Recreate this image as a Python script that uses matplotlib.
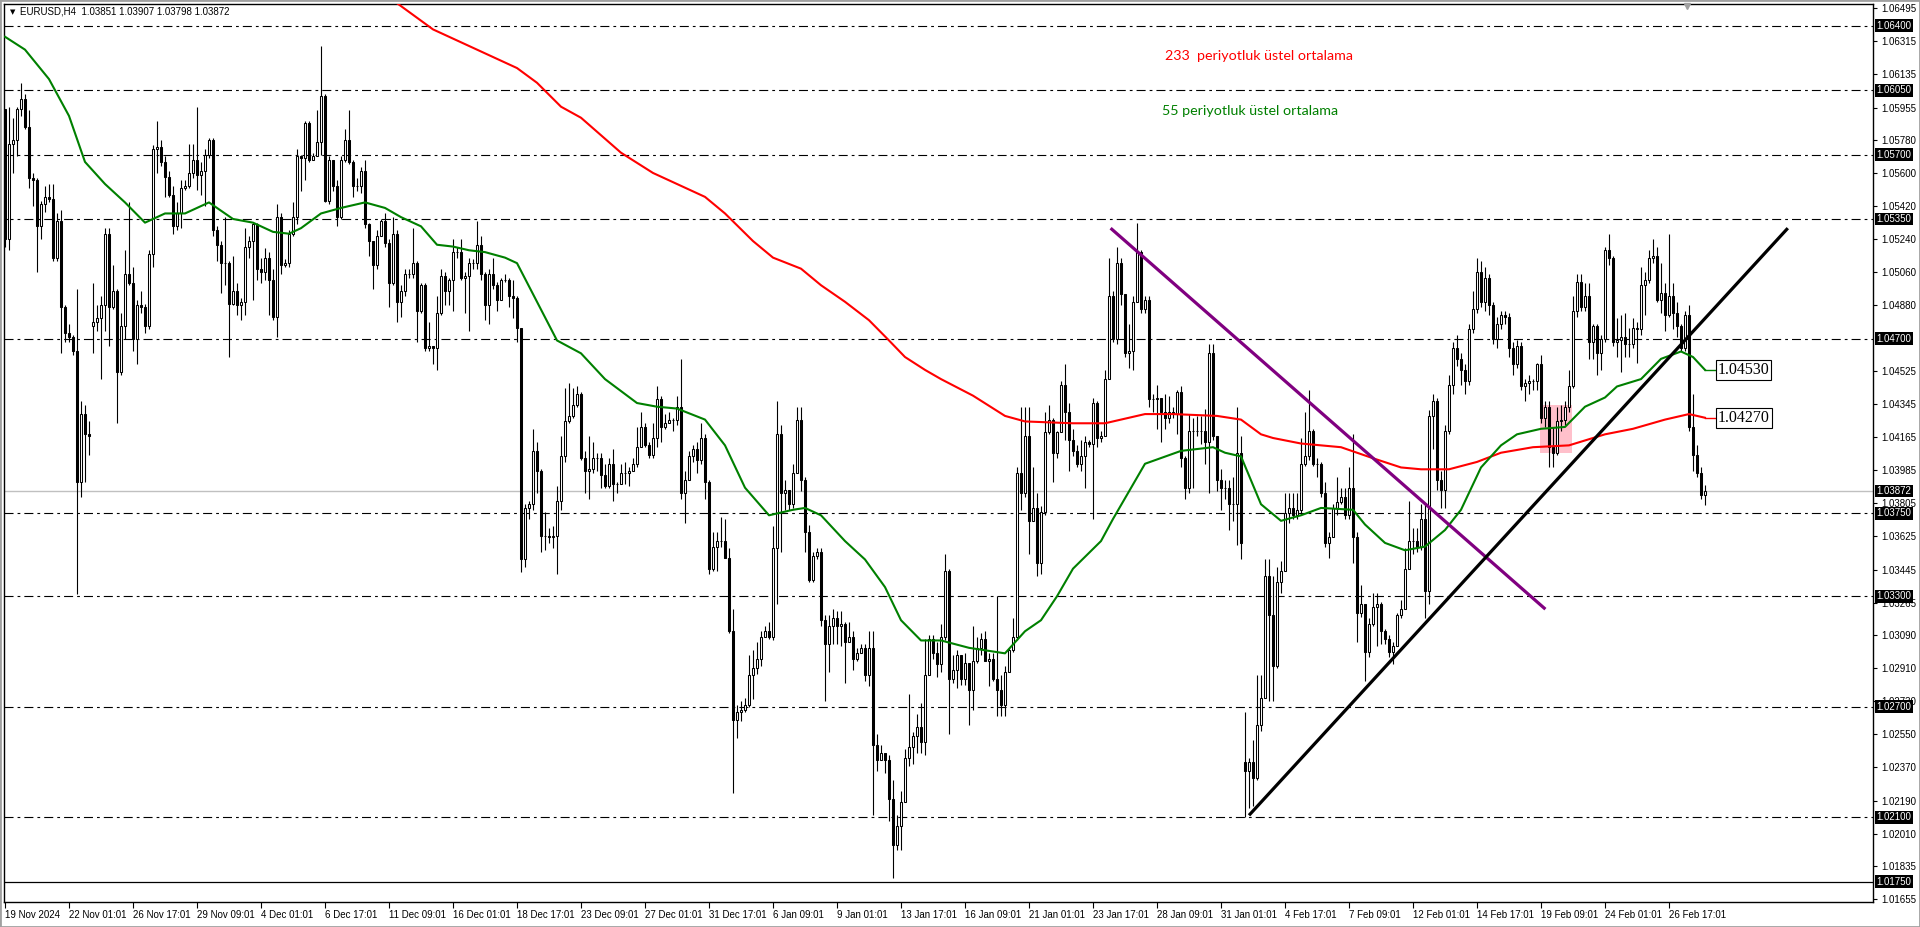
#!/usr/bin/python
#encoding-utf8
import matplotlib
matplotlib.use('Agg')
import matplotlib.pyplot as plt
import matplotlib.transforms as mtransforms
from matplotlib.patches import Rectangle

# EURUSD H4 candles, 19 Nov 2024 -> 27 Feb 2025.
closes = [
    1.0524, 1.0576, 1.0578, 1.0595, 1.0600, 1.0585, 1.0557, 1.0556, 1.0531, 1.0543,
    1.0547, 1.0546, 1.0514, 1.0534, 1.0487, 1.0473, 1.0471, 1.0463, 1.0392, 1.0429,
    1.0418, 1.0417, 1.0479, 1.0481, 1.0488, 1.0527, 1.0487, 1.0496, 1.0452, 1.0477,
    1.0505, 1.0500, 1.0470, 1.0488, 1.0487, 1.0477, 1.0516, 1.0573, 1.0574, 1.0566,
    1.0558, 1.0548, 1.0531, 1.0538, 1.0552, 1.0553, 1.0560, 1.0567, 1.0559, 1.0561,
    1.0570, 1.0578, 1.0529, 1.0521, 1.0511, 1.0511, 1.0489, 1.0496, 1.0488, 1.0490,
    1.0520, 1.0523, 1.0532, 1.0508, 1.0506, 1.0514, 1.0502, 1.0482, 1.0536, 1.0510,
    1.0511, 1.0527, 1.0536, 1.0569, 1.0568, 1.0587, 1.0567, 1.0569, 1.0577, 1.0602,
    1.0545, 1.0567, 1.0553, 1.0536, 1.0567, 1.0578, 1.0566, 1.0553, 1.0553, 1.0561,
    1.0532, 1.0523, 1.0510, 1.0526, 1.0534, 1.0522, 1.0500, 1.0527, 1.0490, 1.0496,
    1.0505, 1.0505, 1.0511, 1.0485, 1.0499, 1.0465, 1.0466, 1.0465, 1.0484, 1.0504,
    1.0496, 1.0502, 1.0517, 1.0517, 1.0503, 1.0504, 1.0511, 1.0511, 1.0521, 1.0505,
    1.0488, 1.0505, 1.0499, 1.0491, 1.0502, 1.0502, 1.0493, 1.0492, 1.0476, 1.0350,
    1.0378, 1.0380, 1.0409, 1.0398, 1.0363, 1.0363, 1.0362, 1.0363, 1.0382, 1.0406,
    1.0425, 1.0428, 1.0434, 1.0440, 1.0405, 1.0398, 1.0399, 1.0405, 1.0405, 1.0396,
    1.0390, 1.0402, 1.0391, 1.0391, 1.0397, 1.0397, 1.0398, 1.0402, 1.0411, 1.0422,
    1.0412, 1.0407, 1.0416, 1.0437, 1.0422, 1.0424, 1.0426, 1.0426, 1.0433, 1.0386,
    1.0393, 1.0406, 1.0410, 1.0404, 1.0416, 1.0392, 1.0345, 1.0357, 1.0360, 1.0360,
    1.0351, 1.0311, 1.0263, 1.0267, 1.0268, 1.0271, 1.0287, 1.0291, 1.0296, 1.0308,
    1.0311, 1.0308, 1.0356, 1.0418, 1.0386, 1.0388, 1.0380, 1.0397, 1.0426, 1.0393,
    1.0365, 1.0339, 1.0352, 1.0354, 1.0317, 1.0304, 1.0314, 1.0318, 1.0314, 1.0315,
    1.0305, 1.0308, 1.0296, 1.0299, 1.0302, 1.0287, 1.0302, 1.0249, 1.0241, 1.0245,
    1.0241, 1.0220, 1.0195, 1.0205, 1.0218, 1.0242, 1.0248, 1.0254, 1.0259, 1.0251,
    1.0287, 1.0307, 1.0299, 1.0293, 1.0308, 1.0344, 1.0285, 1.0290, 1.0298, 1.0285,
    1.0294, 1.0279, 1.0295, 1.0302, 1.0307, 1.0295, 1.0296, 1.0285, 1.0279, 1.0271,
    1.0289, 1.0301, 1.0308, 1.0397, 1.0386, 1.0417, 1.0371, 1.0378, 1.0348, 1.0376,
    1.0419, 1.0426, 1.0408, 1.0419, 1.0445, 1.0430, 1.0415, 1.0409, 1.0402, 1.0406,
    1.0414, 1.0413, 1.0435, 1.0416, 1.0417, 1.0448, 1.0493, 1.0470, 1.0511, 1.0494,
    1.0462, 1.0463, 1.0490, 1.0517, 1.0486, 1.0491, 1.0437, 1.0437, 1.0438, 1.0430,
    1.0427, 1.0430, 1.0429, 1.0441, 1.0405, 1.0389, 1.0420, 1.0420, 1.0420, 1.0420,
    1.0414, 1.0462, 1.0417, 1.0393, 1.0389, 1.0389, 1.0380, 1.0380, 1.0408, 1.0359,
    1.0235, 1.0240, 1.0231, 1.0260, 1.0275, 1.0341, 1.0320, 1.0292, 1.0338, 1.0344,
    1.0375, 1.0378, 1.0374, 1.0377, 1.0402, 1.0406, 1.0420, 1.0402, 1.0402, 1.0386,
    1.0359, 1.0362, 1.0378, 1.0381, 1.0384, 1.0374, 1.0389, 1.0362, 1.0321, 1.0326,
    1.0300, 1.0315, 1.0324, 1.0326, 1.0311, 1.0307, 1.0300, 1.0303, 1.0320, 1.0323,
    1.0345, 1.0360, 1.0360, 1.0357, 1.0372, 1.0333, 1.0428, 1.0436, 1.0393, 1.0388,
    1.0420, 1.0445, 1.0465, 1.0459, 1.0453, 1.0447, 1.0475, 1.0486, 1.0506, 1.0490,
    1.0503, 1.0488, 1.0470, 1.0478, 1.0483, 1.0482, 1.0465, 1.0456, 1.0466, 1.0444,
    1.0446, 1.0447, 1.0447, 1.0456, 1.0427, 1.0433, 1.0411, 1.0408, 1.0425, 1.0426,
    1.0433, 1.0444, 1.0485, 1.0501, 1.0487, 1.0493, 1.0468, 1.0477, 1.0462, 1.0470,
    1.0518, 1.0514, 1.0468, 1.0469, 1.0471, 1.0467, 1.0467, 1.0476, 1.0475, 1.0499,
    1.0502, 1.0514, 1.0515, 1.0491, 1.0495, 1.0483, 1.0493, 1.0484, 1.0477, 1.0465,
    1.0483, 1.0422, 1.0407, 1.0397, 1.0385, 1.03872,
]

highs = [
    1.0595, 1.0596, 1.0590, 1.0596, 1.0609, 1.0603, 1.0594, 1.0560, 1.0557, 1.0545,
    1.0553, 1.0554, 1.0554, 1.0538, 1.0540, 1.0488, 1.0478, 1.0472, 1.0497, 1.0436,
    1.0434, 1.0425, 1.0500, 1.0488, 1.0493, 1.0530, 1.0530, 1.0510, 1.0497, 1.0484,
    1.0518, 1.0544, 1.0509, 1.0491, 1.0496, 1.0489, 1.0518, 1.0575, 1.0588, 1.0578,
    1.0569, 1.0561, 1.0553, 1.0544, 1.0556, 1.0556, 1.0576, 1.0576, 1.0596, 1.0566,
    1.0573, 1.0579, 1.0579, 1.0531, 1.0523, 1.0536, 1.0512, 1.0515, 1.0500, 1.0492,
    1.0530, 1.0526, 1.0533, 1.0533, 1.0514, 1.0519, 1.0517, 1.0508, 1.0543, 1.0538,
    1.0513, 1.0529, 1.0544, 1.0573, 1.0570, 1.0588, 1.0588, 1.0571, 1.0594, 1.0629,
    1.0603, 1.0569, 1.0561, 1.0556, 1.0569, 1.0584, 1.0594, 1.0567, 1.0557, 1.0563,
    1.0567, 1.0533, 1.0523, 1.0529, 1.0535, 1.0538, 1.0524, 1.0536, 1.0529, 1.0499,
    1.0508, 1.0508, 1.0530, 1.0512, 1.0500, 1.0500, 1.0479, 1.0466, 1.0493, 1.0508,
    1.0506, 1.0503, 1.0524, 1.0520, 1.0524, 1.0506, 1.0514, 1.0513, 1.0534, 1.0526,
    1.0506, 1.0508, 1.0514, 1.0501, 1.0503, 1.0505, 1.0503, 1.0502, 1.0493, 1.0476,
    1.0380, 1.0382, 1.0421, 1.0414, 1.0399, 1.0376, 1.0367, 1.0368, 1.0390, 1.0417,
    1.0443, 1.0446, 1.0443, 1.0444, 1.0441, 1.0409, 1.0417, 1.0414, 1.0408, 1.0408,
    1.0402, 1.0405, 1.0410, 1.0392, 1.0402, 1.0403, 1.0400, 1.0405, 1.0422, 1.0430,
    1.0424, 1.0414, 1.0424, 1.0444, 1.0439, 1.0429, 1.0430, 1.0427, 1.0439, 1.0459,
    1.0398, 1.0409, 1.0412, 1.0414, 1.0424, 1.0418, 1.0393, 1.0365, 1.0365, 1.0373,
    1.0372, 1.0356, 1.0323, 1.0271, 1.0273, 1.0275, 1.0298, 1.0301, 1.0305, 1.0311,
    1.0314, 1.0316, 1.0368, 1.0436, 1.0423, 1.0393, 1.0386, 1.0402, 1.0433, 1.0433,
    1.0395, 1.0369, 1.0354, 1.0356, 1.0356, 1.0320, 1.0320, 1.0323, 1.0322, 1.0322,
    1.0316, 1.0316, 1.0311, 1.0302, 1.0304, 1.0304, 1.0311, 1.0311, 1.0255, 1.0249,
    1.0245, 1.0244, 1.0230, 1.0211, 1.0224, 1.0247, 1.0277, 1.0256, 1.0266, 1.0272,
    1.0307, 1.0309, 1.0309, 1.0305, 1.0315, 1.0353, 1.0345, 1.0298, 1.0301, 1.0291,
    1.0299, 1.0294, 1.0314, 1.0308, 1.0310, 1.0311, 1.0299, 1.0299, 1.0330, 1.0287,
    1.0292, 1.0302, 1.0318, 1.0400, 1.0433, 1.0433, 1.0433, 1.0400, 1.0386, 1.0379,
    1.0430, 1.0434, 1.0427, 1.0420, 1.0447, 1.0456, 1.0435, 1.0421, 1.0412, 1.0415,
    1.0417, 1.0415, 1.0438, 1.0436, 1.0420, 1.0453, 1.0514, 1.0496, 1.0520, 1.0514,
    1.0494, 1.0478, 1.0493, 1.0533, 1.0518, 1.0493, 1.0493, 1.0440, 1.0445, 1.0437,
    1.0440, 1.0439, 1.0433, 1.0442, 1.0444, 1.0406, 1.0429, 1.0427, 1.0428, 1.0428,
    1.0432, 1.0467, 1.0467, 1.0417, 1.0399, 1.0393, 1.0393, 1.0395, 1.0433, 1.0417,
    1.0267, 1.0242, 1.0252, 1.0287, 1.0287, 1.0350, 1.0350, 1.0341, 1.0346, 1.0349,
    1.0386, 1.0386, 1.0386, 1.0386, 1.0416, 1.0430, 1.0442, 1.0421, 1.0405, 1.0403,
    1.0392, 1.0365, 1.0380, 1.0395, 1.0389, 1.0389, 1.0400, 1.0418, 1.0365, 1.0336,
    1.0326, 1.0318, 1.0332, 1.0332, 1.0327, 1.0312, 1.0309, 1.0305, 1.0321, 1.0328,
    1.0356, 1.0382, 1.0367, 1.0367, 1.0380, 1.0380, 1.0431, 1.0440, 1.0438, 1.0398,
    1.0423, 1.0450, 1.0468, 1.0472, 1.0462, 1.0456, 1.0478, 1.0496, 1.0514, 1.0512,
    1.0509, 1.0505, 1.0490, 1.0482, 1.0485, 1.0485, 1.0484, 1.0468, 1.0469, 1.0468,
    1.0448, 1.0450, 1.0448, 1.0457, 1.0461, 1.0436, 1.0436, 1.0422, 1.0433, 1.0434,
    1.0436, 1.0453, 1.0493, 1.0505, 1.0505, 1.0500, 1.0500, 1.0478, 1.0478, 1.0472,
    1.0520, 1.0527, 1.0515, 1.0481, 1.0483, 1.0484, 1.0476, 1.0481, 1.0479, 1.0509,
    1.0506, 1.0518, 1.0524, 1.0520, 1.0511, 1.0500, 1.0527, 1.0500, 1.0490, 1.0478,
    1.0485, 1.0488, 1.0440, 1.0412, 1.0400, 1.03907,
]

lows = [
    1.0520, 1.0518, 1.0560, 1.0569, 1.0591, 1.0584, 1.0552, 1.0542, 1.0506, 1.0524,
    1.0539, 1.0544, 1.0512, 1.0512, 1.0462, 1.0468, 1.0468, 1.0461, 1.0331, 1.0384,
    1.0392, 1.0407, 1.0462, 1.0474, 1.0448, 1.0474, 1.0466, 1.0486, 1.0424, 1.0450,
    1.0470, 1.0499, 1.0463, 1.0456, 1.0484, 1.0473, 1.0475, 1.0509, 1.0560, 1.0564,
    1.0547, 1.0547, 1.0527, 1.0529, 1.0530, 1.0551, 1.0552, 1.0557, 1.0551, 1.0548,
    1.0542, 1.0568, 1.0526, 1.0512, 1.0495, 1.0499, 1.0460, 1.0488, 1.0483, 1.0480,
    1.0483, 1.0514, 1.0491, 1.0502, 1.0500, 1.0502, 1.0483, 1.0480, 1.0471, 1.0505,
    1.0509, 1.0509, 1.0526, 1.0532, 1.0550, 1.0556, 1.0566, 1.0567, 1.0569, 1.0570,
    1.0544, 1.0543, 1.0550, 1.0531, 1.0535, 1.0566, 1.0565, 1.0547, 1.0550, 1.0549,
    1.0530, 1.0515, 1.0497, 1.0508, 1.0526, 1.0520, 1.0487, 1.0499, 1.0479, 1.0482,
    1.0493, 1.0503, 1.0503, 1.0468, 1.0484, 1.0463, 1.0463, 1.0456, 1.0453, 1.0483,
    1.0488, 1.0488, 1.0485, 1.0514, 1.0502, 1.0484, 1.0474, 1.0508, 1.0508, 1.0502,
    1.0480, 1.0478, 1.0497, 1.0485, 1.0491, 1.0501, 1.0487, 1.0481, 1.0468, 1.0343,
    1.0346, 1.0372, 1.0377, 1.0386, 1.0354, 1.0355, 1.0359, 1.0356, 1.0342, 1.0377,
    1.0403, 1.0424, 1.0427, 1.0433, 1.0404, 1.0386, 1.0383, 1.0397, 1.0398, 1.0389,
    1.0389, 1.0389, 1.0382, 1.0386, 1.0391, 1.0391, 1.0390, 1.0398, 1.0400, 1.0411,
    1.0411, 1.0405, 1.0405, 1.0411, 1.0414, 1.0421, 1.0424, 1.0420, 1.0423, 1.0383,
    1.0370, 1.0393, 1.0403, 1.0397, 1.0402, 1.0383, 1.0342, 1.0344, 1.0344, 1.0357,
    1.0351, 1.0310, 1.0223, 1.0253, 1.0262, 1.0267, 1.0270, 1.0274, 1.0288, 1.0292,
    1.0308, 1.0307, 1.0306, 1.0326, 1.0354, 1.0377, 1.0377, 1.0378, 1.0397, 1.0387,
    1.0354, 1.0338, 1.0338, 1.0350, 1.0314, 1.0273, 1.0289, 1.0304, 1.0304, 1.0303,
    1.0283, 1.0305, 1.0290, 1.0295, 1.0299, 1.0284, 1.0281, 1.0211, 1.0235, 1.0241,
    1.0234, 1.0208, 1.0177, 1.0192, 1.0192, 1.0218, 1.0238, 1.0239, 1.0245, 1.0245,
    1.0244, 1.0287, 1.0296, 1.0286, 1.0289, 1.0306, 1.0255, 1.0283, 1.0280, 1.0282,
    1.0282, 1.0260, 1.0268, 1.0294, 1.0298, 1.0295, 1.0281, 1.0284, 1.0265, 1.0265,
    1.0265, 1.0289, 1.0300, 1.0306, 1.0377, 1.0384, 1.0353, 1.0371, 1.0341, 1.0342,
    1.0374, 1.0418, 1.0392, 1.0405, 1.0419, 1.0415, 1.0398, 1.0406, 1.0400, 1.0398,
    1.0389, 1.0411, 1.0372, 1.0411, 1.0414, 1.0417, 1.0448, 1.0468, 1.0467, 1.0488,
    1.0460, 1.0454, 1.0453, 1.0490, 1.0484, 1.0484, 1.0433, 1.0430, 1.0421, 1.0414,
    1.0421, 1.0424, 1.0427, 1.0418, 1.0400, 1.0383, 1.0386, 1.0389, 1.0417, 1.0413,
    1.0402, 1.0386, 1.0415, 1.0387, 1.0377, 1.0383, 1.0366, 1.0371, 1.0358, 1.0350,
    1.0210, 1.0215, 1.0216, 1.0230, 1.0257, 1.0275, 1.0273, 1.0273, 1.0291, 1.0332,
    1.0344, 1.0370, 1.0372, 1.0372, 1.0374, 1.0401, 1.0404, 1.0401, 1.0395, 1.0384,
    1.0357, 1.0351, 1.0362, 1.0374, 1.0380, 1.0372, 1.0372, 1.0348, 1.0305, 1.0319,
    1.0284, 1.0297, 1.0314, 1.0303, 1.0304, 1.0304, 1.0297, 1.0293, 1.0303, 1.0318,
    1.0323, 1.0345, 1.0353, 1.0354, 1.0355, 1.0318, 1.0326, 1.0410, 1.0388, 1.0378,
    1.0378, 1.0418, 1.0440, 1.0455, 1.0445, 1.0440, 1.0445, 1.0473, 1.0484, 1.0487,
    1.0485, 1.0483, 1.0467, 1.0465, 1.0475, 1.0478, 1.0460, 1.0450, 1.0454, 1.0442,
    1.0436, 1.0440, 1.0442, 1.0442, 1.0424, 1.0422, 1.0400, 1.0400, 1.0407, 1.0420,
    1.0423, 1.0430, 1.0443, 1.0482, 1.0485, 1.0485, 1.0459, 1.0459, 1.0450, 1.0453,
    1.0468, 1.0510, 1.0466, 1.0460, 1.0452, 1.0460, 1.0460, 1.0465, 1.0457, 1.0472,
    1.0483, 1.0500, 1.0511, 1.0490, 1.0484, 1.0474, 1.0482, 1.0475, 1.0471, 1.0463,
    1.0463, 1.0420, 1.0398, 1.0395, 1.0383, 1.03798,
]

# bars whose open is not the previous close (weekend gaps, first and last bar)
gap_opens = {0: 1.0595, 22: 1.0477, 310: 1.0240, 425: 1.03851}

# moving averages, sampled along the drawn curves (bar index, price)
ema55_bars = [0, 5, 11, 16, 20, 25, 30, 35, 40, 45, 51, 57, 62, 67, 71, 74, 79, 84, 90,
              95, 99, 104, 108, 112, 116, 120, 125, 128, 133, 138, 144, 150, 158, 163,
              168, 175, 180, 185, 191, 197, 200, 204, 210, 215, 220, 224, 229, 234, 241,
              250, 255, 259, 263, 267, 274, 277, 281, 285, 294, 302, 305, 309, 314, 319,
              324, 329, 337, 340, 345, 350, 355, 360, 364, 369, 374, 378, 384, 390, 395,
              400, 403, 409, 414, 419, 422, 425]
ema55_vals = [1.0634, 1.0627, 1.0611, 1.0591, 1.0566, 1.0554, 1.0544, 1.0533, 1.0538,
              1.0538, 1.0544, 1.0535, 1.0533, 1.0528, 1.0527, 1.0530, 1.0538, 1.0541,
              1.0544, 1.0541, 1.0536, 1.0531, 1.0521, 1.0520, 1.0518, 1.0517, 1.0514,
              1.0511, 1.0490, 1.0469, 1.0462, 1.0448, 1.0435, 1.0433, 1.0432, 1.0426,
              1.0412, 1.0389, 1.0374, 1.0377, 1.0378, 1.0374, 1.0360, 1.0350, 1.0335,
              1.0317, 1.0306, 1.0306, 1.0302, 1.0299, 1.0311, 1.0317, 1.0330, 1.0345,
              1.0360, 1.0372, 1.0387, 1.0402, 1.0409, 1.0411, 1.0408, 1.0406, 1.0380,
              1.0371, 1.0374, 1.0378, 1.0377, 1.0369, 1.0359, 1.0355, 1.0357, 1.0366,
              1.0377, 1.0400, 1.0412, 1.0418, 1.0421, 1.0422, 1.0433, 1.0438, 1.0444,
              1.0448, 1.0459, 1.0463, 1.0460, 1.0453]

ema233_bars = [95, 107, 116, 128, 133, 139, 144, 154, 162, 170, 175, 180, 187, 192, 199,
               204, 210, 216, 221, 225, 230, 234, 242, 250, 255, 267, 275, 279, 285, 292,
               303, 309, 314, 317, 324, 334, 342, 349, 354, 361, 368, 374, 382, 391, 400,
               407, 415, 421, 425]
ema233_vals = [1.0657, 1.0638, 1.0629, 1.0617, 1.0609, 1.0596, 1.0590, 1.0571, 1.0560,
               1.0552, 1.0547, 1.0538, 1.0523, 1.0514, 1.0508, 1.0499, 1.0490, 1.0480,
               1.0469, 1.0460, 1.0453, 1.0448, 1.0439, 1.0428, 1.0425, 1.0424, 1.0424,
               1.0426, 1.0429, 1.0429, 1.0428, 1.0426, 1.0418, 1.0416, 1.0413, 1.0411,
               1.0405, 1.0400, 1.0399, 1.0399, 1.0403, 1.0408, 1.0411, 1.0412, 1.0418,
               1.0421, 1.0426, 1.0429, 1.0427]

levels_dashdot = [1.0640, 1.0605, 1.0570, 1.0535, 1.0470, 1.0375, 1.0330, 1.0270, 1.0210]
level_solid = 1.0175
last_price = 1.03872

# trend lines: (bar, price) end points
purple_line = [(276.4, 1.0530), (385.1, 1.0323)]
black_line = [(311.0, 1.0211), (445.7, 1.0530)]
pink_box = (383.75, 391.7, 1.0408, 1.0434)

# regular scale labels (1.04700 sits under its marked twin, so it is left out)
price_ticks = [1.06495, 1.06315, 1.06135, 1.05955, 1.05780, 1.05600, 1.05420, 1.05240,
               1.05060, 1.04880, 1.04525, 1.04345, 1.04165, 1.03985, 1.03805,
               1.03625, 1.03445, 1.03265, 1.03090, 1.02910, 1.02730, 1.02550, 1.02370,
               1.02190, 1.02010, 1.01835, 1.01655]
marked_prices = [1.06400, 1.06050, 1.05700, 1.05350, 1.04700, 1.03872, 1.03750,
                 1.03300, 1.02700, 1.02100, 1.01750]

date_labels = ['19 Nov 2024', '22 Nov 01:01', '26 Nov 17:01', '29 Nov 09:01',
               '4 Dec 01:01', '6 Dec 17:01', '11 Dec 09:01', '16 Dec 01:01',
               '18 Dec 17:01', '23 Dec 09:01', '27 Dec 01:01', '31 Dec 17:01',
               '6 Jan 09:01', '9 Jan 01:01', '13 Jan 17:01', '16 Jan 09:01',
               '21 Jan 01:01', '23 Jan 17:01', '28 Jan 09:01', '31 Jan 01:01',
               '4 Feb 17:01', '7 Feb 09:01', '12 Feb 01:01', '14 Feb 17:01',
               '19 Feb 09:01', '24 Feb 01:01', '26 Feb 17:01']
date_step = 16

ema_labels = [('1.04530', 1.04530, '#008000'), ('1.04270', 1.04270, '#ff0000')]


def plot_chart():
    plt.rcParams['font.family'] = ['Liberation Sans', 'DejaVu Sans']
    plt.rcParams['lines.scale_dashes'] = False

    W, H = 1920, 927
    fig = plt.figure(figsize=(W / 100.0, H / 100.0), dpi=100)
    fig.patch.set_facecolor('white')
    # plot area: x 4..1873 px, y 4..902 px (from top)
    ax = fig.add_axes([4.0 / W, (H - 902.0) / H, 1869.0 / W, 898.0 / H])
    ax.set_xlim(-0.25, 467.0)
    ax.set_ylim(1.01639, 1.06518)
    for s in ax.spines.values():
        s.set_linewidth(1.0)
        s.set_color('black')

    n = len(closes)
    xs = list(range(n))
    opens = [gap_opens.get(i, closes[i - 1] if i > 0 else closes[0]) for i in xs]

    # support / resistance levels
    dd = (0, (6.5, 2.9, 2.0, 2.9))
    for lv in levels_dashdot:
        ax.axhline(lv, color='black', lw=0.8, linestyle=dd, zorder=1.5)
    ax.axhline(level_solid, color='black', lw=0.9, zorder=1.5)
    ax.axhline(last_price, color='#c0c0c0', lw=1.0, zorder=1.4)

    # pink highlight box
    x0, x1, y0, y1 = pink_box
    ax.add_patch(Rectangle((x0, y0), x1 - x0, y1 - y0, facecolor='#ffc0cb',
                           edgecolor='none', zorder=1))

    # candles
    wlo = [min(lows[i], opens[i], closes[i]) for i in xs]
    whi = [max(highs[i], opens[i], closes[i]) for i in xs]
    ax.vlines(xs, wlo, whi, color='black', lw=0.8, zorder=3)
    bottoms = [min(opens[i], closes[i]) for i in xs]
    heights = [abs(closes[i] - opens[i]) for i in xs]
    faces = ['white' if closes[i] >= opens[i] else 'black' for i in xs]
    ax.bar(xs, heights, bottom=bottoms, width=0.5, color=faces,
           edgecolor='black', linewidth=0.75, zorder=3.5)

    # moving averages
    ax.plot(ema233_bars, ema233_vals, color='#ff0000', lw=1.5, zorder=4)
    ax.plot(ema55_bars, ema55_vals, color='#008000', lw=1.5, zorder=4)

    # trend lines
    ax.plot(*zip(*purple_line), color='#800080', lw=2.3, zorder=5,
            solid_capstyle='butt')
    ax.plot(*zip(*black_line), color='black', lw=2.3, zorder=5,
            solid_capstyle='butt')

    # labels for the two averages at the right of the last bar
    for txt, val, col in ema_labels:
        ax.plot([n - 1, n + 2.2], [val, val], color=col, lw=1.0, zorder=4)
        ax.text(n + 2.2, val, txt, fontsize=11.5, family='Liberation Serif',
                ha='left', va='center', color='black', zorder=6,
                bbox=dict(boxstyle='square,pad=0.12', facecolor='white',
                          edgecolor='black', linewidth=0.8))

    # right price axis
    ax.yaxis.tick_right()
    ax.set_yticks(price_ticks)
    ax.set_yticklabels(['%.5f' % p for p in price_ticks])
    ax.tick_params(axis='y', direction='out', length=3, width=0.8, pad=3,
                   labelsize=7, colors='black')
    trans = mtransforms.blended_transform_factory(ax.transAxes, ax.transData)
    for p in marked_prices:
        ax.text(1.0017, p, '%.5f' % p, transform=trans, fontsize=7, color='white',
                ha='left', va='center', zorder=10, clip_on=False,
                bbox=dict(boxstyle='square,pad=0.15', facecolor='black',
                          edgecolor='black', linewidth=0))

    # time axis
    ax.set_xticks([i * date_step for i in range(len(date_labels))])
    ax.set_xticklabels(date_labels)
    ax.tick_params(axis='x', direction='out', length=4, width=0.8, pad=2,
                   labelsize=7, colors='black')
    for lab in ax.get_xticklabels():
        lab.set_horizontalalignment('left')

    # chart shift marker
    ax.plot([420.5], [1.06505], marker='v', color='#a0a0a0', markersize=5,
            clip_on=False, zorder=6)

    # header and notes
    fig.text(10.0 / W, 1 - 12.0 / H, '\u25bc', fontsize=5, family='DejaVu Sans',
             va='center', ha='left')
    fig.text(20.0 / W, 1 - 12.0 / H, 'EURUSD,H4  1.03851 1.03907 1.03798 1.03872',
             fontsize=7, va='center', ha='left')
    fig.text(1165.0 / W, 1 - 56.0 / H, '233  periyotluk \u00fcstel ortalama',
             fontsize=10.3, family='Lato', color='#ff0000', va='center', ha='left')
    fig.text(1162.0 / W, 1 - 111.0 / H, '55 periyotluk \u00fcstel ortalama',
             fontsize=10.3, family='Lato', color='#008000', va='center', ha='left')

    fig.patches.append(Rectangle((0, 0), 1, 1, transform=fig.transFigure, fill=False,
                                 edgecolor='#a0a0a0', linewidth=2))
    fig.savefig('out.png', dpi=100)


def main():
    plot_chart()


if __name__ == '__main__':
    main()
